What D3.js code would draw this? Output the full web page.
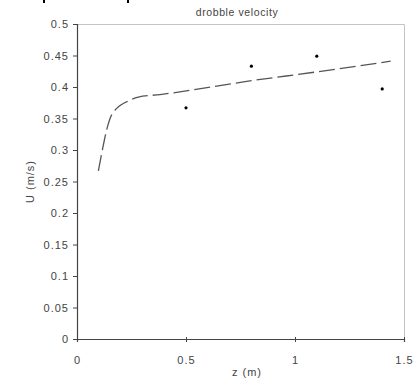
<!DOCTYPE html>
<html>
<head>
<meta charset="utf-8">
<script src="https://cdn.jsdelivr.net/npm/d3@7/dist/d3.min.js"></script>
<style>
  html, body { margin: 0; padding: 0; background: #fff; }
  svg { display: block; font-family: "Liberation Sans", Arial, sans-serif; }
</style>
</head>
<body>
<svg id="chart" width="416" height="380"></svg>
<script>
// Data
const pointZ = [0.5, 0.8, 1.1, 1.4];
const pointU = [0.367, 0.433, 0.449, 0.397];
const lineZ = [0.098, 0.121, 0.136, 0.159, 0.182, 0.243, 0.281, 0.381, 0.8, 1.1, 1.439];
const lineU = [0.267, 0.308, 0.332, 0.356, 0.366, 0.379, 0.384, 0.388, 0.410, 0.424, 0.441];
const xTicks = [0, 0.5, 1, 1.5];
const yTicks = [0, 0.05, 0.1, 0.15, 0.2, 0.25, 0.3, 0.35, 0.4, 0.45, 0.5];
const title = "drobble velocity";
const xLabel = "z (m)";
const yLabel = "U (m/s)";

const svg = d3.select("#chart");
const L = 77, R = 404, T = 24, B = 339;
const x = d3.scaleLinear().domain([0, 1.5]).range([L, R]);
const y = d3.scaleLinear().domain([0, 0.5]).range([B, T]);
const font = "'Liberation Sans', Arial, sans-serif";

// cropped fragments at the very top edge
svg.append("rect").attr("x", 43).attr("y", 0).attr("width", 2).attr("height", 3).attr("fill", "#000");
svg.append("rect").attr("x", 127).attr("y", 0).attr("width", 2).attr("height", 3).attr("fill", "#000");

// frame top/right (light)
svg.append("path")
  .attr("d", `M${L},${T+0.5}H${R+0.5}V${B}`)
  .attr("fill", "none").attr("stroke", "#c4c4c4").attr("stroke-width", 1);

// Y axis
const yAxis = d3.axisLeft(y).tickValues(yTicks).tickSize(4).tickPadding(4)
  .tickFormat(d => String(+d.toFixed(2)));
const gy = svg.append("g").attr("transform", `translate(${L},0)`).call(yAxis);
gy.select(".domain").attr("stroke", "#444").attr("stroke-width", 1.2);
gy.selectAll(".tick line").attr("stroke", "#444");
gy.selectAll("text").attr("font-size", 11).attr("fill", "#444")
  .attr("letter-spacing", 1).attr("font-family", font);

// X axis
const xAxis = d3.axisBottom(x).tickValues(xTicks).tickSize(3).tickPadding(14)
  .tickFormat(d => String(d));
const gx = svg.append("g").attr("transform", `translate(0,${B})`).call(xAxis);
gx.select(".domain").attr("stroke", "#444").attr("stroke-width", 1.2);
gx.selectAll(".tick line").attr("stroke", "#444").attr("y1", -2);
gx.selectAll("text").attr("font-size", 11).attr("fill", "#444")
  .attr("letter-spacing", 1).attr("font-family", font);

// Title
svg.append("text").attr("x", 237).attr("y", 16).attr("text-anchor", "middle")
  .attr("font-size", 10.5).attr("letter-spacing", 0.6).attr("fill", "#444").text(title);

// Axis labels
svg.append("text").attr("x", 247).attr("y", 376).attr("text-anchor", "middle")
  .attr("font-size", 11).attr("letter-spacing", 1).attr("fill", "#444").text(xLabel);
svg.append("text").attr("transform", `translate(34,${(T+B)/2}) rotate(-90)`)
  .attr("text-anchor", "middle").attr("font-size", 11).attr("letter-spacing", 1)
  .attr("fill", "#444").text(yLabel);

// Line
const lineData = lineZ.map((z, i) => [z, lineU[i]]);
svg.append("path").datum(lineData)
  .attr("d", d3.line().x(d => x(d[0])).y(d => y(d[1])).curve(d3.curveMonotoneX))
  .attr("fill", "none").attr("stroke", "#555").attr("stroke-width", 1.3)
  .attr("stroke-dasharray", "16,5");

// Points
svg.selectAll("circle.pt").data(pointZ.map((z, i) => [z, pointU[i]])).enter()
  .append("circle").attr("class", "pt")
  .attr("cx", d => x(d[0])).attr("cy", d => y(d[1])).attr("r", 1.6).attr("fill", "#000");
</script>
</body>
</html>
